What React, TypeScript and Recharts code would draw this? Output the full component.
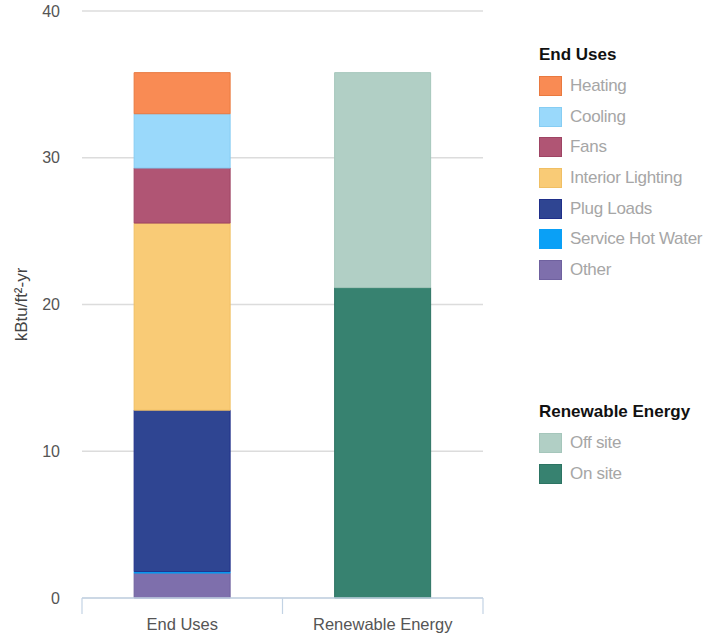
import { BarChart, Bar, XAxis, YAxis, CartesianGrid } from "recharts";

// stacked segments, bottom to top
const categories = ["End Uses", "Renewable Energy"];
const other = [1.7, null];
const serviceHotWater = [0.1, null];
const plugLoads = [11.0, null];
const interiorLighting = [12.75, null];
const fans = [3.75, null];
const cooling = [3.7, null];
const heating = [2.8, null];
const onSite = [null, 21.15];
const offSite = [null, 14.65];
const yTicks = [0, 10, 20, 30, 40];

const endUseSeries = [
  { key: "heating", name: "Heating", fill: "#f98b54", stroke: "#e9793f", values: heating },
  { key: "cooling", name: "Cooling", fill: "#9ad9fb", stroke: "#86cdf3", values: cooling },
  { key: "fans", name: "Fans", fill: "#b05574", stroke: "#9e4464", values: fans },
  { key: "lighting", name: "Interior Lighting", fill: "#f9cb76", stroke: "#f0bf64", values: interiorLighting },
  { key: "plug", name: "Plug Loads", fill: "#2f4592", stroke: "#1f2f8a", values: plugLoads },
  { key: "shw", name: "Service Hot Water", fill: "#0aa0f6", stroke: "#0aa0f6", values: serviceHotWater },
  { key: "other", name: "Other", fill: "#7e6fac", stroke: "#6f619f", values: other },
];

const renewableSeries = [
  { key: "offsite", name: "Off site", fill: "#b1cfc5", stroke: "#a5c6bb", values: offSite },
  { key: "onsite", name: "On site", fill: "#378270", stroke: "#2c7463", values: onSite },
];

const data = categories.map((name, i) => {
  const row: Record<string, any> = { name };
  [...endUseSeries, ...renewableSeries].forEach((s) => {
    row[s.key] = s.values[i];
  });
  return row;
});

// draw order for the stack is bottom-up
const stackOrder = [...endUseSeries].reverse().concat([...renewableSeries].reverse());

const FONT = "'Liberation Sans', Arial, sans-serif";
const AXIS_COLOR = "#c3d3e4";

function CategoryTick(props: any) {
  const { x, y, payload, index, visibleTicksCount } = props;
  const half = payload.offset || 100;
  return (
    <g>
      <line x1={x - half} y1={y - 8} x2={x - half} y2={y + 8} stroke={AXIS_COLOR} strokeWidth={1.2} />
      {index === visibleTicksCount - 1 && (
        <line x1={x + half} y1={y - 8} x2={x + half} y2={y + 8} stroke={AXIS_COLOR} strokeWidth={1.2} />
      )}
      <text x={x} y={y + 24} textAnchor="middle" fontSize={16.5} fill="#555" fontFamily={FONT}>
        {payload.value}
      </text>
    </g>
  );
}

function LegendGroup({ title, items, top }: { title: string; items: typeof endUseSeries; top: number }) {
  return (
    <div style={{ position: "absolute", left: 0, top }}>
      <div style={{ fontWeight: 700, fontSize: 17, color: "#111", height: 28, lineHeight: "24px" }}>{title}</div>
      {items.map((s) => (
        <div key={s.key} style={{ display: "flex", alignItems: "center", height: 30.6 }}>
          <span
            style={{
              display: "inline-block",
              width: 23,
              height: 20,
              background: s.fill,
              border: `1px solid ${s.stroke}`,
              boxSizing: "border-box",
              marginRight: 8,
            }}
          />
          <span style={{ fontSize: 17, color: "#a6a6a6", letterSpacing: -0.3 }}>{s.name}</span>
        </div>
      ))}
    </div>
  );
}

export default function App() {
  return (
    <div style={{ position: "absolute", left: 0, top: 0, width: 708, height: 638, background: "#fff" }}>
      <BarChart
        width={708}
        height={638}
        data={data}
        margin={{ top: 11, right: 225, bottom: 0, left: 0 }}
        barCategoryGap="26%"
      >
        <CartesianGrid vertical={false} stroke="#dcdcdc" strokeWidth={1.5} />
        <XAxis
          dataKey="name"
          height={40}
          axisLine={{ stroke: AXIS_COLOR, strokeWidth: 1.5 }}
          tickLine={false}
          tick={<CategoryTick />}
          interval={0}
        />
        <YAxis
          width={82}
          domain={[0, 40]}
          ticks={yTicks}
          axisLine={false}
          tickLine={false}
          tickSize={0}
          tickMargin={22}
          tick={{ fontSize: 16, fill: "#555", fontFamily: FONT }}
          label={{
            value: "kBtu/ft²-yr",
            angle: -90,
            position: "insideLeft",
            dx: 16,
            style: { fontSize: 17, fill: "#444", fontFamily: FONT, textAnchor: "middle" },
          }}
        />
        {stackOrder.map((s) => (
          <Bar
            key={s.key}
            dataKey={s.key}
            name={s.name}
            stackId="a"
            fill={s.fill}
            stroke={s.stroke}
            strokeWidth={1}
            isAnimationActive={false}
          />
        ))}
      </BarChart>
      <div style={{ position: "absolute", left: 539, top: 43, width: 170, fontFamily: FONT }}>
        <LegendGroup title="End Uses" items={endUseSeries} top={0} />
        <LegendGroup title="Renewable Energy" items={renewableSeries} top={357} />
      </div>
    </div>
  );
}
